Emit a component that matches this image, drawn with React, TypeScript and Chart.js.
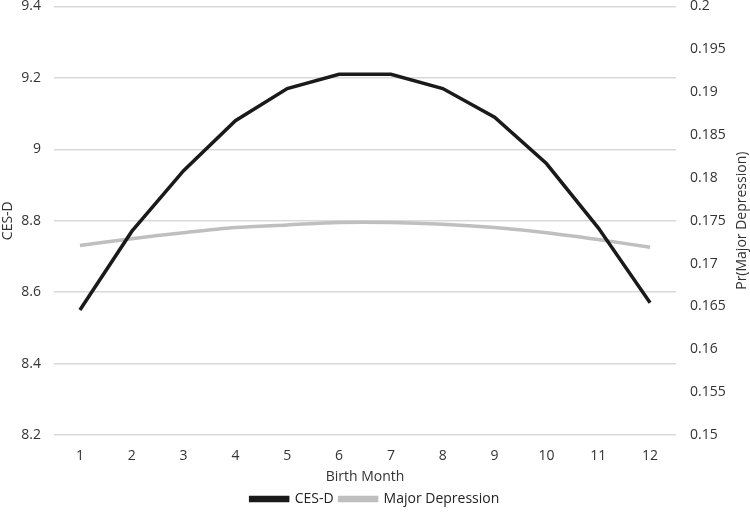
import React, { useEffect, useRef } from "react";
import { Chart, registerables } from "chart.js";

Chart.register(...registerables);

const months = ["1", "2", "3", "4", "5", "6", "7", "8", "9", "10", "11", "12"];
const cesD = [8.55, 8.77, 8.94, 9.08, 9.17, 9.21, 9.21, 9.17, 9.09, 8.96, 8.78, 8.57];
const majorDepression = [0.1721, 0.1729, 0.1736, 0.1742, 0.1745, 0.1748, 0.1748, 0.1746, 0.1742, 0.1736, 0.1728, 0.1719];

const FONT = "'Open Sans', 'Noto Sans', sans-serif";
const SHIFT = 16;
const RIGHT_TITLE = "Pr(Major Depression)";
const X_TITLE = "Birth Month";

const titlesPlugin = {
  id: "titles",
  afterDraw(chart: any) {
    const { ctx, chartArea } = chart;
    ctx.save();
    ctx.font = `14px ${FONT}`;
    ctx.fillStyle = "#333";
    ctx.textAlign = "center";
    ctx.textBaseline = "middle";
    ctx.fillText(X_TITLE, (chartArea.left + chartArea.right) / 2, chartArea.bottom + 42);
    ctx.translate(742, (chartArea.top + chartArea.bottom) / 2);
    ctx.rotate(-Math.PI / 2);
    ctx.fillText(RIGHT_TITLE, 0, 0);
    ctx.restore();
  },
};

export default function App() {
  const ref = useRef<HTMLCanvasElement>(null);
  useEffect(() => {
    if (!ref.current) return;
    const chart = new Chart(ref.current, {
      type: "line",
      data: {
        labels: months,
        datasets: [
          {
            label: "CES-D",
            data: cesD,
            borderColor: "#1a1a1a",
            backgroundColor: "#1a1a1a",
            borderWidth: 3.5,
            pointRadius: 0,
            tension: 0,
            yAxisID: "y",
          },
          {
            label: "Major Depression",
            data: majorDepression,
            borderColor: "#bfbfbf",
            backgroundColor: "#bfbfbf",
            borderWidth: 3.5,
            pointRadius: 0,
            tension: 0.3,
            yAxisID: "y1",
          },
        ],
      },
      plugins: [titlesPlugin],
      options: {
        responsive: false,
        animation: false,
        layout: { padding: { top: 0, right: 0, left: 0, bottom: -4 } },
        plugins: {
          legend: {
            position: "bottom",
            labels: {
              boxWidth: 37,
              boxHeight: 3,
              color: "#222",
              padding: 6,
              font: { family: FONT, size: 14 },
            },
          },
          tooltip: { enabled: false },
        },
        scales: {
          x: {
            offset: true,
            grid: { display: false },
            border: { display: false },
            afterFit: (s: any) => {
              s.height = 51;
            },
            ticks: { color: "#333", font: { family: FONT, size: 14 }, padding: 5 },
          },
          y: {
            position: "left",
            min: 8.2,
            max: 9.4,
            afterFit: (s: any) => {
              s.width = 54;
            },
            ticks: {
              stepSize: 0.2,
              color: "#333",
              font: { family: FONT, size: 14 },
              padding: 13,
              callback: (v: any) => String(Math.round(Number(v) * 10) / 10),
            },
            grid: { color: "#d9d9d9", lineWidth: 1.4, drawTicks: false },
            border: { display: false },
            title: {
              display: true,
              text: "CES-D",
              color: "#333",
              font: { family: FONT, size: 14 },
              padding: { top: 0, bottom: 0 },
            },
          },
          y1: {
            position: "right",
            min: 0.15,
            max: 0.2,
            afterFit: (s: any) => {
              s.width = 74;
            },
            ticks: {
              stepSize: 0.005,
              color: "#333",
              font: { family: FONT, size: 14 },
              padding: 14,
              callback: (v: any) => String(Math.round(Number(v) * 1000) / 1000),
            },
            grid: { display: false, drawTicks: false },
            border: { display: false },
          },
        },
      },
    });
    return () => chart.destroy();
  }, []);
  return (
    <div style={{ position: "fixed", left: 0, top: 0, width: 750, height: 512, background: "#fff", overflow: "hidden" }}>
      <canvas ref={ref} width={750} height={512 + SHIFT} style={{ position: "absolute", left: 0, top: -SHIFT }} />
    </div>
  );
}
